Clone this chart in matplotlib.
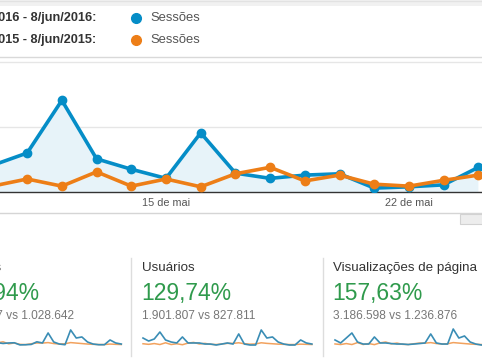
import matplotlib
matplotlib.use("Agg")
import matplotlib.pyplot as plt
from matplotlib.patches import Rectangle

plt.rcParams['font.family'] = ['Liberation Sans', 'DejaVu Sans']

# sessions per day, 9/mai .. 8/jun (thousands)
sess_2016 = [77, 41, 60, 141, 51, 35, 21, 91, 29, 21, 26, 28, 6, 8, 11, 38,
             26, 129, 36, 15, 8, 160, 77, 88, 36, 15, 8, 8, 57, 26, 15]
sess_2015 = [15, 9, 20, 9, 31, 9, 20, 8, 28, 38, 17, 26, 12, 9, 18, 26,
             25, 30, 20, 15, 18, 30, 25, 20, 15, 12, 10, 10, 15, 12, 10]
users_2016 = [77, 46, 67, 139, 57, 36, 26, 88, 26, 26, 26, 15, 15, 5, 15, 26,
              15, 119, 15, 5, 5, 160, 77, 88, 36, 15, 5, 5, 57, 26, 15]
users_2015 = [18, 12, 20, 10, 28, 10, 18, 8, 25, 32, 16, 22, 12, 10, 16, 22,
              22, 28, 18, 14, 16, 28, 22, 18, 14, 12, 10, 10, 14, 12, 10]
pv_2016 = [57, 26, 77, 129, 36, 15, 15, 88, 26, 26, 20, 15, 15, 10, 15, 20,
           26, 119, 26, 15, 15, 170, 77, 98, 36, 15, 5, 8, 30, 20, 15]
pv_2015 = [16, 10, 20, 10, 30, 10, 20, 9, 27, 36, 17, 25, 12, 10, 18, 25,
           24, 30, 20, 15, 18, 30, 25, 20, 15, 12, 10, 10, 15, 12, 10]

month_days = list(range(31))          # 0 = 9 de mai
main_days = list(range(10, 25))       # visible days of main chart (mai)
main_2016 = sess_2016[1:16]
main_2015 = sess_2015[1:16]

tick_days = [15, 22]
tick_labels = ["15 de mai", "22 de mai"]

metric_names = ["Sessões", "Usuários", "Visualizações de página"]
metric_pct = ["124,94%", "129,74%", "157,63%"]
metric_vs = ["2.313.827 vs 1.028.642", "1.901.807 vs 827.811",
             "3.186.598 vs 1.236.876"]
metric_series = [(sess_2016, sess_2015), (users_2016, users_2015),
                 (pv_2016, pv_2015)]

BLUE = "#058dc7"
ORANGE = "#ed7e17"
W, H = 482, 363


def rect(x0, y0, x1, y1):
    # pixel box (top-left origin) -> figure fraction
    return [x0 / W, 1 - y1 / H, (x1 - x0) / W, (y1 - y0) / H]


fig = plt.figure(figsize=(W / 100, H / 100), dpi=100)
fig.patch.set_facecolor("white")

# main chart
px_per_day = 34.71
ax = fig.add_axes(rect(0, 57, W, 192))
ax.set_xlim(15 - 166 / px_per_day, 15 + (W - 166) / px_per_day)
ax.set_ylim(0, (192 - 57) / 0.65)
ax.fill_between(main_days, main_2016, color="#e7f3f9", lw=0)
ax.plot(main_days, main_2016, color=BLUE, lw=2.6, marker="o", ms=6,
        solid_joinstyle="round", zorder=3)
ax.plot(main_days, main_2015, color=ORANGE, lw=2.6, marker="o", ms=6,
        solid_joinstyle="round", zorder=4)
ax.set_yticks([0, 100, 200])
ax.yaxis.grid(True, color="#e6e6e6", lw=1)
ax.set_axisbelow(True)
ax.set_yticklabels([])
ax.tick_params(axis="y", length=0)
ax.set_xticks(tick_days)
ax.set_xticklabels(tick_labels, fontsize=7.8, color="#555555")
ax.tick_params(axis="x", length=0, pad=4)
for s in ["top", "left", "right"]:
    ax.spines[s].set_visible(False)
ax.spines["bottom"].set_color("#333333")
ax.spines["bottom"].set_linewidth(1)

# sparklines
spark_left = [-47.6, 143, 335]
for (cur, prev), x0 in zip(metric_series, spark_left):
    sp = fig.add_axes(rect(x0, 329, x0 + 168.9, 345.5))
    sp.set_xlim(0, 30)
    sp.set_ylim(0, 170)
    sp.plot(month_days, prev, color="#f2a25e", lw=1.1, clip_on=False)
    sp.plot(month_days, cur, color="#3a8db5", lw=1.2, clip_on=False)
    sp.axis("off")

# overlay for header / texts
ov = fig.add_axes([0, 0, 1, 1], zorder=10)
ov.set_xlim(0, W)
ov.set_ylim(H, 0)
ov.axis("off")

ov.add_patch(Rectangle((0, 0), W, 6, color="#f1f1f1", lw=0))
ov.plot([0, W], [0.5, 0.5], color="#e2e2e2", lw=1)
ov.plot([0, W], [56.5, 56.5], color="#d9d9d9", lw=1)
ov.plot([0, W], [213, 213], color="#d5d5d5", lw=1)
ov.add_patch(Rectangle((460, 214), 24, 10, facecolor="#ededed",
                       edgecolor="#d2d2d2", lw=0.8))

ov.text(96, 18, "9/mai/2016 - 8/jun/2016:", ha="right", va="center",
        fontsize=9.2, fontweight="bold", color="#333333")
ov.text(96, 40, "9/mai/2015 - 8/jun/2015:", ha="right", va="center",
        fontsize=9.2, fontweight="bold", color="#333333")
ov.plot([136], [18], "o", color=BLUE, ms=7)
ov.plot([136], [40], "o", color=ORANGE, ms=7)
ov.text(150, 18, "Sessões", ha="left", va="center", fontsize=9.4,
        color="#555555")
ov.text(150, 40, "Sessões", ha="left", va="center", fontsize=9.4,
        color="#555555")

# metric cards
for name, pct, vs, x0 in zip(metric_names, metric_pct, metric_vs,
                             [-50, 142, 333]):
    ov.text(x0, 268, name, ha="left", va="center", fontsize=9.6,
            color="#333333")
    ov.text(x0 - 1, 293.5, pct, ha="left", va="center", fontsize=16.5,
            color="#2f9a4c")
    ov.text(x0, 316, vs, ha="left", va="center", fontsize=8.6,
            color="#777777")
for x in [130.5, 322.5]:
    ov.plot([x, x], [258, 356], color="#dddddd", lw=1)

fig.savefig("out.png", dpi=100)
